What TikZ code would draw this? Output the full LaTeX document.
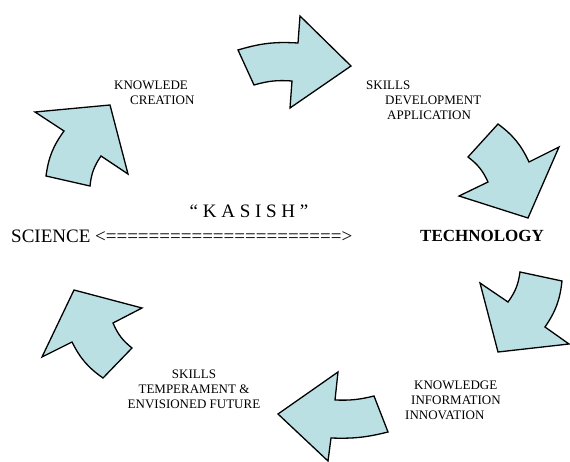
\documentclass[tikz,border=0pt]{standalone}
\usepackage{fontspec}
\setmainfont{Liberation Serif}
\usepackage{xcolor}
\definecolor{palecyan}{RGB}{186,224,228}

\begin{document}
\begin{tikzpicture}[
    x=1pt, y=-1pt,
    cyclearrow/.style={draw=black, fill=palecyan, line width=1.3pt, line join=miter},
    lbl/.style={font=\fontsize{13}{15}\selectfont, align=left, inner sep=0pt, anchor=north west},
    bigtxt/.style={font=\fontsize{19}{22}\selectfont, inner sep=0pt}
]
\useasboundingbox (0,0) rectangle (570,462);

% -------- Cycle arrows (clockwise) --------
\draw[cyclearrow] (238,50) to[bend left=10] (298,43) -- (300,16) -- (351,66)
    -- (290,108) -- (292,81) to[bend right=10] (254,85) -- cycle;
\draw[cyclearrow] (498,124) to[bend left=14] (529,162) -- (559,147) -- (528,218)
    -- (459,196) -- (488,182) to[bend right=14] (468,157) -- cycle;
\draw[cyclearrow] (569,344) -- (498,352) -- (480,283) -- (508,302)
    to[bend right=14] (520,272) -- (562,281) to[bend left=14] (545,327) -- cycle;
\draw[cyclearrow] (278,414) -- (338,372) -- (335,400) to[bend right=8] (374,396)
    -- (388,432) to[bend left=8] (331,438) -- (328,461) -- cycle;
\draw[cyclearrow] (74,290) -- (142,308) -- (113,323) to[bend right=14] (132,348)
    -- (103,378) to[bend left=14] (72,342) -- (42,357) -- cycle;
\draw[cyclearrow] (110,105) -- (128,174) -- (101,156) to[bend right=14] (90,186)
    -- (46,176) to[bend left=14] (64,131) -- (35,112) -- cycle;

% -------- Stage labels --------
\node[lbl] (creation) at (114,80.5) {KNOWLEDE\\\hspace*{16pt}CREATION};
\node[lbl] (skillsdev) at (366,81) {SKILLS\\\hspace*{19pt}DEVELOPMENT\\\hspace*{21pt}APPLICATION};
\node[lbl] (innovation) at (405,380.5) {\hspace*{9pt}KNOWLEDGE\\\hspace*{6pt}INFORMATION\\INNOVATION};
\node[lbl, align=center, anchor=north] (temperament) at (194,369.5)
    {SKILLS\\TEMPERAMENT \&\\ENVISIONED FUTURE};

% -------- Centre line --------
\node[bigtxt, anchor=base] (kasish) at (249,218) {“ K A S I S H ”};
\node[bigtxt, anchor=base west] (science) at (11,243) {SCIENCE <======================>};
\node[bigtxt, font=\fontsize{17}{20}\selectfont\bfseries, anchor=base west] (technology) at (420,242) {TECHNOLOGY};

\end{tikzpicture}
\end{document}
